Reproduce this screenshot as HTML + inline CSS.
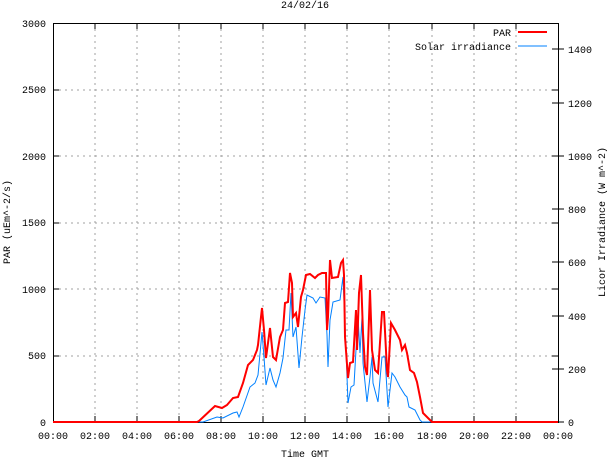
<!DOCTYPE html><html><head><style>body{margin:0;background:#fff}svg{display:block}text{font-family:"Liberation Mono","DejaVu Sans Mono",monospace;font-size:10px;fill:#000}</style></head><body>
<svg width="610" height="459" xmlns="http://www.w3.org/2000/svg">
<g stroke="#a0a0a0" stroke-dasharray="2,4" stroke-width="1">
<line x1="95" y1="23" x2="95" y2="422"/><line x1="137" y1="23" x2="137" y2="422"/><line x1="179" y1="23" x2="179" y2="422"/><line x1="221" y1="23" x2="221" y2="422"/><line x1="263" y1="23" x2="263" y2="422"/><line x1="305" y1="23" x2="305" y2="422"/><line x1="347" y1="23" x2="347" y2="422"/><line x1="389" y1="23" x2="389" y2="422"/><line x1="432" y1="23" x2="432" y2="422"/><line x1="474" y1="23" x2="474" y2="422"/><line x1="516" y1="23" x2="516" y2="422"/>
<line x1="53" y1="356" x2="558" y2="356"/><line x1="53" y1="289" x2="558" y2="289"/><line x1="53" y1="223" x2="558" y2="223"/><line x1="53" y1="156" x2="558" y2="156"/><line x1="53" y1="90" x2="558" y2="90"/>
</g>
<rect x="53.5" y="23.5" width="505" height="399" fill="none" stroke="#000"/>
<g stroke="#000">
<path d="M53 356h6M53 289h6M53 223h6M53 156h6M53 90h6M558 356h-6M558 289h-6M558 223h-6M558 156h-6M558 90h-6"/>
<path d="M558 369h-6M558 316h-6M558 262h-6M558 209h-6M558 156h-6M558 103h-6M558 49h-6M558 369h6M558 316h6M558 262h6M558 209h6M558 156h6M558 103h6M558 49h6M558 422h6"/>
<path d="M95 422v-6M137 422v-6M179 422v-6M221 422v-6M263 422v-6M305 422v-6M347 422v-6M389 422v-6M432 422v-6M474 422v-6M516 422v-6M95 23v6M137 23v6M179 23v6M221 23v6M263 23v6M305 23v6M347 23v6M389 23v6M432 23v6M474 23v6M516 23v6"/>
</g>
<g text-anchor="end">
<text x="46" y="426">0</text><text x="46" y="359">500</text><text x="46" y="293">1000</text><text x="46" y="226">1500</text><text x="46" y="160">2000</text><text x="46" y="93">2500</text><text x="46" y="27">3000</text>
</g>
<g>
<text x="568" y="426">0</text><text x="568" y="373">200</text><text x="568" y="320">400</text><text x="568" y="266">600</text><text x="568" y="213">800</text><text x="568" y="160">1000</text><text x="568" y="107">1200</text><text x="568" y="53">1400</text>
</g>
<g text-anchor="middle">
<text x="53" y="439">00:00</text><text x="95" y="439">02:00</text><text x="137" y="439">04:00</text><text x="179" y="439">06:00</text><text x="221" y="439">08:00</text><text x="263" y="439">10:00</text><text x="305" y="439">12:00</text><text x="347" y="439">14:00</text><text x="389" y="439">16:00</text><text x="432" y="439">18:00</text><text x="474" y="439">20:00</text><text x="516" y="439">22:00</text><text x="558" y="439">00:00</text>
<text x="305" y="457">Time GMT</text>
<text x="305" y="8">24/02/16</text>
<text transform="translate(10,222) rotate(-90)">PAR (uEm^-2/s)</text>
<text transform="translate(605,222) rotate(-90)">Licor Irradiance (W m^-2)</text>
</g>
<g text-anchor="end"><text x="511" y="36">PAR</text><text x="511" y="50">Solar irradiance</text></g>
<line x1="518" y1="32" x2="547" y2="32" stroke="#f00" stroke-width="2"/>
<line x1="518" y1="46" x2="547" y2="46" stroke="#0080ff" stroke-width="1"/>
<polyline fill="none" stroke="#0080ff" stroke-width="1" points="53,422 203,422 217,417 223,418 233,413 237,412 239,417 243,407 250,387 255,383 258,375 261,343 262,332 264,357 266,385 270,368 273,380 276,387 280,373 283,358 286,330 289,330 291,293 293,337 296,327 299,368 302,337 305,310 307,295 313,298 316,303 320,297 325,298 327,335 328,367 330,320 333,302 340,300 343,277 346,350 348,403 351,387 354,385 356,350 358,317 360,353 362,317 363,363 367,402 370,377 372,357 373,383 378,402 382,357 385,357 388,407 392,373 395,377 400,387 405,395 407,397 409,407 415,410 420,420 422,422 558,422"/>
<polyline fill="none" stroke="#f00" stroke-width="2" points="53,422 197,422 199,421 215,406 222,408 227,405 233,398 238,397 243,383 248,365 253,360 257,350 258,345 261,317 262,308 264,330 266,358 270,328 273,357 276,360 280,337 283,330 285,303 288,302 290,273 292,283 293,317 296,313 298,327 301,297 303,290 306,275 310,274 315,278 318,275 322,273 326,273 327,330 328,317 330,260 332,278 338,277 341,263 343,260 344,275 345,337 348,378 350,363 353,362 356,310 357,350 359,293 361,275 363,333 365,367 367,375 370,290 372,350 375,370 378,373 382,312 384,312 387,370 388,377 391,323 395,330 400,340 402,350 405,345 407,353 410,370 414,373 417,382 420,397 423,413 428,418 432,422 558,422"/>
</svg>
</body></html>
